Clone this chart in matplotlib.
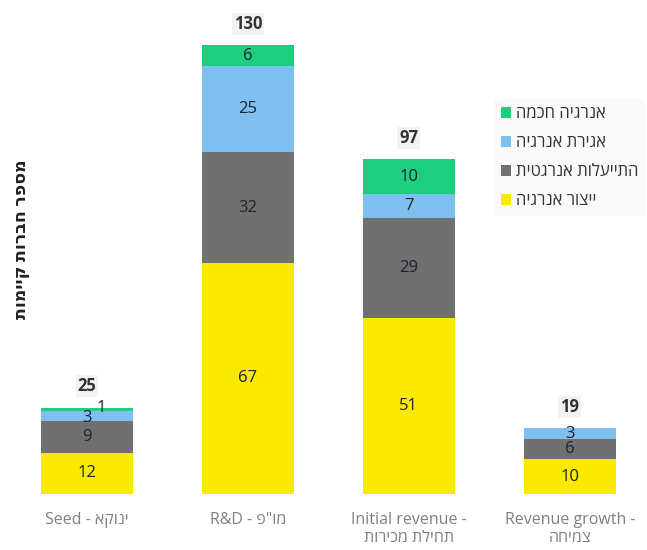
import numpy as np
import matplotlib.pyplot as plt

plt.rcParams['font.family'] = ['Open Sans', 'DejaVu Sans']


def rtl(s):
    # matplotlib has no bidi support: flip the Hebrew run for display
    return s[::-1]


stages_en = ['Seed - ', 'R&D - ', 'Initial revenue -\n', 'Revenue growth -\n']
stages_he = ['ינוקא', 'מו"פ', 'תחילת מכירות', 'צמיחה']

series_names = ['ייצור אנרגיה', 'התייעלות אנרגטית', 'אגירת אנרגיה', 'אנרגיה חכמה']
production = [12, 67, 51, 10]
efficiency = [9, 32, 29, 6]
storage = [3, 25, 7, 3]
smart = [1, 6, 10, 0]
colors = ['#f9ea00', '#707070', '#7fbff0', '#1ece7e']

ylabel = 'מספר חברות קיימות'

series = [production, efficiency, storage, smart]
totals = np.sum(series, axis=0)
x = np.arange(len(stages_en))

fig = plt.figure(figsize=(6.47, 5.5), dpi=100)
ax = fig.add_axes([0.01, 0.102, 0.995, 0.878])

bottom = np.zeros(len(x))
handles = []
for vals, col, name in zip(series, colors, series_names):
    bars = ax.bar(x, vals, width=0.57, bottom=bottom, color=col, label=rtl(name))
    handles.append(bars)
    for xi, v, b in zip(x, vals, bottom):
        if v == 0:
            continue
        dx, dy = 0, 0
        if v == 1:  # tiny slice on the seed bar, nudge like the original
            dx, dy = 0.09, 0.3
        elif xi == 0 and v == 3:
            dy = -0.6
        ax.text(xi + dx, b + v / 2 + dy, str(v), ha='center', va='center',
                fontsize=12, color='#1c2230')
    bottom += np.array(vals)

for xi, t in zip(x, totals):
    ax.text(xi, t + 6.3, str(t), ha='center', va='center', fontsize=12,
            fontweight='bold', color='#333333',
            bbox=dict(facecolor='#f2f2f2', edgecolor='none', pad=1.5))

labels = [en + rtl(he) for en, he in zip(stages_en, stages_he)]
ax.set_xticks(x)
ax.set_xticklabels(labels, fontsize=11.5, color='#808080', linespacing=1.15)
ax.tick_params(axis='x', length=0, pad=13)
ax.set_yticks([])
ax.set_xlim(-0.5, 3.5)
ax.set_ylim(0, 140)
for s in ax.spines.values():
    s.set_visible(False)

fig.text(0.032, 0.565, rtl(ylabel), rotation=90, ha='center', va='center',
         fontsize=12.5, fontweight='bold', color='#222222')

leg = ax.legend(handles=handles[::-1], labels=[rtl(n) for n in series_names[::-1]],
                loc='upper left', bbox_to_anchor=(0.745, 0.834), frameon=True,
                fontsize=12, handlelength=0.6, handleheight=0.6,
                handletextpad=0.3, labelspacing=0.78, borderpad=0.4)
leg.get_frame().set_facecolor('#f9f9f9')
leg.get_frame().set_edgecolor('none')
for t in leg.get_texts():
    t.set_color('#333333')

fig.savefig('out.png', dpi=100)
